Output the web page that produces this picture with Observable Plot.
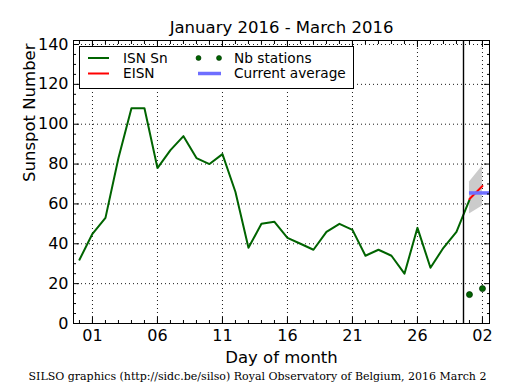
<!DOCTYPE html>
<html><head><meta charset="utf-8">
<script src="https://cdn.jsdelivr.net/npm/d3@7"></script>
<script src="https://cdn.jsdelivr.net/npm/@observablehq/plot@0.6"></script>
<style>body{margin:0;background:#fff}#chart{width:515px;height:390px}</style>
</head><body><div id="chart"></div>
<script>
// ---- data ----
const isnDates = ["2016-01-31","2016-02-01","2016-02-02","2016-02-03","2016-02-04","2016-02-05","2016-02-06","2016-02-07","2016-02-08","2016-02-09","2016-02-10","2016-02-11","2016-02-12","2016-02-13","2016-02-14","2016-02-15","2016-02-16","2016-02-17","2016-02-18","2016-02-19","2016-02-20","2016-02-21","2016-02-22","2016-02-23","2016-02-24","2016-02-25","2016-02-26","2016-02-27","2016-02-28","2016-02-29","2016-03-01"];
const isnValues = [32,45,53,83,108,108,78,87,94,83,80,85,66,38,50,51,43,40,37,46,50,47,34,37,34,25,48,28,38,46,62];
const eisnDates = ["2016-03-01","2016-03-02"];
const eisnValues = [62.5,69];
const bandLow = [55,59];
const bandHigh = [71,79];
const stationDates = ["2016-03-01","2016-03-02"];
const stationValues = [14.5,17.5];
const currentAverage = 65.5;
const currentAverageSpan = ["2016-03-01","2016-03-02T13:00Z"];
const monthBoundary = "2016-02-29T13:00Z";
const xTickDates = ["2016-02-01","2016-02-06","2016-02-11","2016-02-16","2016-02-21","2016-02-26","2016-03-02"];
const xDomainDates = ["2016-01-30T13:00Z","2016-03-02T13:00Z"];
const yTicks = [0,20,40,60,80,100,120,140];
const yMinorTicks = [5,10,15,25,30,35,45,50,55,65,70,75,85,90,95,105,110,115,125,130,135];
const titleText = "January 2016 - March 2016";
const xLabel = "Day of month";
const yLabel = "Sunspot Number";
const captionText = "SILSO graphics (http://sidc.be/silso) Royal Observatory of Belgium, 2016 March 2";
const legendItems = ["ISN Sn","EISN","Nb stations","Current average"];

const D = s => new Date(s);
const isn = isnDates.map((d,i)=>({date:D(d), v:isnValues[i]}));
const eisn = eisnDates.map((d,i)=>({date:D(d), v:eisnValues[i], lo:bandLow[i], hi:bandHigh[i]}));
const stations = stationDates.map((d,i)=>({date:D(d), v:stationValues[i]}));
const xTicks = xTickDates.map(D);
const xDomain = xDomainDates.map(D);
const xMinor = d3.utcDay.range(D("2016-01-31"), D("2016-03-03"));

const green = "#006400";
const gridStyle = {stroke:"black", strokeDasharray:"1,3", strokeWidth:0.9};

const chart = Plot.plot({
  width:515, height:390,
  marginLeft:73, marginRight:26, marginTop:40, marginBottom:67,
  x:{type:"utc", domain:xDomain},
  y:{domain:[0,142]},
  style:{fontFamily:"'DejaVu Sans', sans-serif", fontSize:"16px", color:"black", background:"white"},
  marks:[
    Plot.ruleY(yTicks.filter(d=>d>0), gridStyle),
    Plot.ruleX(xTicks, gridStyle),
    Plot.areaY(eisn, {x:"date", y1:"lo", y2:"hi", fill:"#cbcbcb"}),
    Plot.lineY(isn, {x:"date", y:"v", stroke:green, strokeWidth:2}),
    Plot.lineY(eisn, {x:"date", y:"v", stroke:"#ff0000", strokeWidth:2}),
    Plot.ruleY([currentAverage], {x1:D(currentAverageSpan[0]), x2:D(currentAverageSpan[1]), stroke:"#6e6eff", strokeWidth:3.5}),
    Plot.dot(stations, {x:"date", y:"v", r:3, fill:green, stroke:"#003300", strokeWidth:0.8}),
    Plot.ruleX([D(monthBoundary)], {stroke:"black", strokeWidth:1.4}),
    Plot.frame({stroke:"black", strokeWidth:1}),
    // inward ticks
    Plot.axisY(yTicks, {anchor:"left", tickSize:6, dx:6, fill:"none", label:null}),
    Plot.axisY(yMinorTicks, {anchor:"left", tickSize:3, dx:3, fill:"none", label:null}),
    Plot.axisY(yTicks, {anchor:"right", tickSize:6, dx:-6, fill:"none", label:null}),
    Plot.axisY(yMinorTicks, {anchor:"right", tickSize:3, dx:-3, fill:"none", label:null}),
    Plot.axisX(xTicks, {anchor:"bottom", tickSize:6, dy:-6, fill:"none", label:null}),
    Plot.axisX(xMinor, {anchor:"bottom", tickSize:3, dy:-3, fill:"none", label:null}),
    Plot.axisX(xTicks, {anchor:"top", tickSize:6, dy:6, fill:"none", label:null}),
    Plot.axisX(xMinor, {anchor:"top", tickSize:3, dy:3, fill:"none", label:null}),
    // tick labels
    Plot.axisY(yTicks, {anchor:"left", tickSize:0, tickPadding:5, label:null, fontSize:16}),
    Plot.axisX(xTicks, {anchor:"bottom", tickSize:0, tickPadding:6, tickFormat:d3.utcFormat("%d"), label:null, fontSize:16}),
    // titles (baseline-anchored)
    Plot.text([titleText], {frameAnchor:"top", dy:-7.5, lineAnchor:"bottom", fontSize:16.5}),
    Plot.text([xLabel], {frameAnchor:"bottom", dy:39.5, lineAnchor:"bottom", fontSize:16.5}),
    Plot.text([yLabel], {frameAnchor:"left", dx:-39, rotate:-90, lineAnchor:"bottom", fontSize:16.5}),
    Plot.text([captionText], {frameAnchor:"bottom-left", dx:-45, dy:56, lineAnchor:"bottom", textAnchor:"start", fontFamily:"'DejaVu Serif', serif", fontSize:11})
  ]
});
document.getElementById("chart").appendChild(chart);

// legend (layout only)
const svg = d3.select(chart);
const lg = svg.append("g").attr("font-family","'DejaVu Sans', sans-serif").attr("font-size",13.7).attr("text-anchor","start");
lg.append("rect").attr("x",79.5).attr("y",46.5).attr("width",274).attr("height",42).attr("fill","white").attr("stroke","black").attr("stroke-width",1);
const row1 = 58, row2 = 73.5;
lg.append("line").attr("x1",88).attr("x2",109).attr("y1",row1).attr("y2",row1).attr("stroke",green).attr("stroke-width",2);
lg.append("line").attr("x1",88).attr("x2",109).attr("y1",row2).attr("y2",row2).attr("stroke","#ff0000").attr("stroke-width",2);
lg.append("circle").attr("cx",198.5).attr("cy",row1).attr("r",2.5).attr("fill",green).attr("stroke","#003300").attr("stroke-width",0.6);
lg.append("circle").attr("cx",219).attr("cy",row1).attr("r",2.5).attr("fill",green).attr("stroke","#003300").attr("stroke-width",0.6);
lg.append("line").attr("x1",198).attr("x2",221).attr("y1",row2).attr("y2",row2).attr("stroke","#6e6eff").attr("stroke-width",3.5);
[[123,row1,legendItems[0]],[123,row2,legendItems[1]],[234,row1,legendItems[2]],[234,row2,legendItems[3]]].forEach(([x,y,t])=>{
  lg.append("text").attr("x",x).attr("y",y).attr("dy","0.36em").attr("fill","black").text(t);
});
</script>
</body></html>
